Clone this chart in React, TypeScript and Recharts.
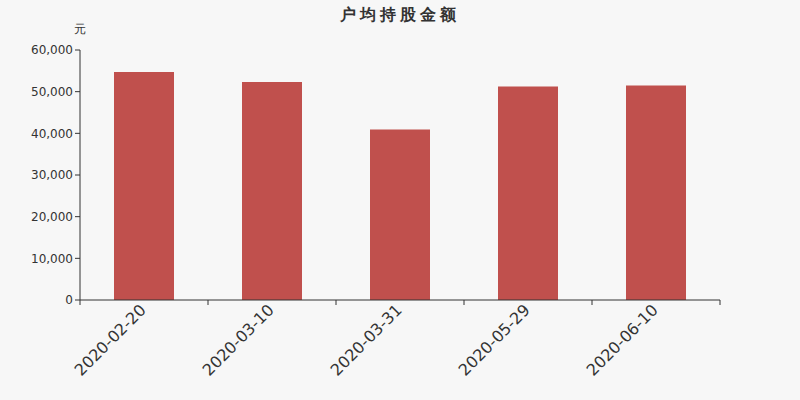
import React from 'react';
import { BarChart, Bar, XAxis, YAxis } from 'recharts';

const dates = ['2020-02-20', '2020-03-10', '2020-03-31', '2020-05-29', '2020-06-10'];
const amounts = [54720, 52320, 40920, 51240, 51480];
const yTicks = [0, 10000, 20000, 30000, 40000, 50000, 60000];

const data = dates.map((d, i) => ({ date: d, value: amounts[i] }));

const W = 800;
const H = 400;
const PLOT_LEFT = 80;
const PLOT_RIGHT = 720;
const band = (PLOT_RIGHT - PLOT_LEFT) / dates.length;
const FONT = '"DejaVu Sans", sans-serif';

const DateTick = (props: any) => {
  const { x, y, payload, index } = props;
  const last = index === dates.length - 1;
  return (
    <g>
      <line x1={x - band / 2} y1={y - 8} x2={x - band / 2} y2={y - 3} stroke="#333" />
      {last && <line x1={x + band / 2} y1={y - 8} x2={x + band / 2} y2={y - 3} stroke="#333" />}
      <text
        x={x + 3}
        y={y + 3}
        transform={`rotate(-45, ${x + 3}, ${y + 3})`}
        textAnchor="end"
        fill="#333"
        fontSize={16}
        fontFamily={FONT}
      >
        {payload.value}
      </text>
    </g>
  );
};

export default function App() {
  return (
    <div style={{ position: 'absolute', left: 0, top: 0, width: W, height: H, background: '#f7f7f7' }}>
      <BarChart width={W} height={H} data={data} margin={{ top: 50, right: 80, bottom: 0, left: 0 }}>
        <text
          x={400}
          y={20}
          textAnchor="middle"
          fontSize={16}
          fontWeight="bold"
          letterSpacing={4}
          fill="#333"
          fontFamily={FONT}
        >
          户均持股金额
        </text>
        <text x={80} y={33} textAnchor="middle" fontSize={12} fill="#333" fontFamily={FONT}>
          元
        </text>
        <XAxis
          dataKey="date"
          height={100}
          axisLine={{ stroke: '#333' }}
          tickLine={false}
          tick={<DateTick />}
          interval={0}
        />
        <YAxis
          width={80}
          domain={[0, 60000]}
          ticks={yTicks}
          axisLine={{ stroke: '#333' }}
          tickLine={{ stroke: '#333' }}
          tickSize={5}
          tick={{ fill: '#333', fontSize: 12, fontFamily: FONT }}
          tickFormatter={(v: number) => v.toLocaleString('en-US')}
        />
        <Bar dataKey="value" fill="#c0504d" barSize={60} isAnimationActive={false} />
      </BarChart>
    </div>
  );
}
